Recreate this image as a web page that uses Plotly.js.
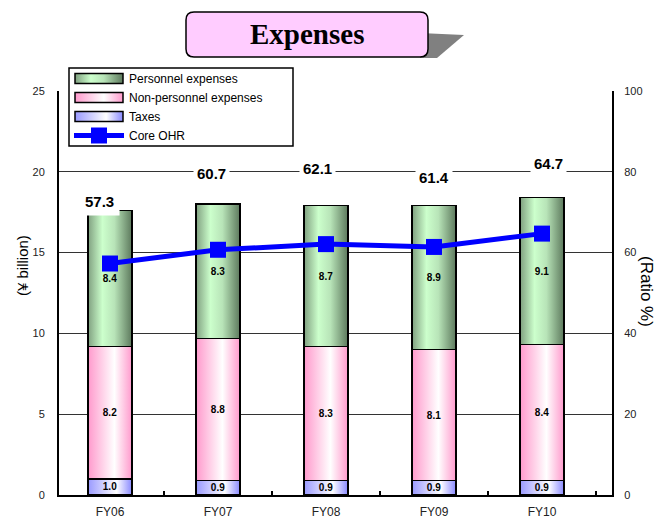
<!DOCTYPE html>
<html><head><meta charset="utf-8">
<script src="https://cdn.plot.ly/plotly-3.0.1.min.js"></script>
<style>body{margin:0;background:#fff}#chart{width:661px;height:519px}</style>
</head><body>
<svg width="0" height="0" style="position:absolute"><defs>
<linearGradient id="gGreen" x1="0" y1="0" x2="1" y2="0">
 <stop offset="0" stop-color="#7f9f7f"/><stop offset="0.33" stop-color="#ccffcc"/><stop offset="0.6" stop-color="#b8e4b8"/><stop offset="1" stop-color="#5c785c"/>
</linearGradient>
<linearGradient id="gPink" x1="0" y1="0" x2="1" y2="0">
 <stop offset="0" stop-color="#ff99cc"/><stop offset="0.6" stop-color="#ffffff"/><stop offset="1" stop-color="#ff99cc"/>
</linearGradient>
<linearGradient id="gBlue" x1="0" y1="0" x2="1" y2="0">
 <stop offset="0" stop-color="#9999ff"/><stop offset="0.65" stop-color="#ffffff"/><stop offset="1" stop-color="#8888ff"/>
</linearGradient>
</defs></svg>
<div id="chart"></div>
<script>
// ---- data ----
const categories = ['FY06', 'FY07', 'FY08', 'FY09', 'FY10'];
const taxes = [1.0, 0.9, 0.9, 0.9, 0.9];
const nonPersonnel = [8.2, 8.8, 8.3, 8.1, 8.4];
const personnel = [8.4, 8.3, 8.7, 8.9, 9.1];
const coreOHR = [57.3, 60.7, 62.1, 61.4, 64.7];

// ---- label placement (pixels, style only) ----
const ohrLabelDx = [-10, -6, -9, 0, 6];
const ohrLabelDy = [62, 76, 76, 69, 70];
const ohrLabelPad = [5, 3, 3, 3, 3];

// plot area geometry in pixels
const L = 59, R = 612, T = 91, B = 495;
const px = x => (x - L) / (R - L);
const py = y => (B - y) / (B - T);

const barText = {family: 'Arial, Liberation Sans, sans-serif', size: 10, color: '#000', weight: 'bold'};
const barLine = {color: '#000', width: 1.5};
function barTrace(name, vals, color, rank) {
  return {
    type: 'bar', name: name, x: categories, y: vals,
    marker: {color: color, line: barLine},
    width: 0.41,
    text: vals.map(v => v.toFixed(1)),
    textposition: 'inside', insidetextanchor: 'middle', textangle: 0,
    insidetextfont: barText, constraintext: 'none',
    legendrank: rank, hoverinfo: 'skip'
  };
}

const traces = [
  barTrace('Taxes', taxes, '#c4c4ff', 3),
  barTrace('Non-personnel expenses', nonPersonnel, '#ffc4e2', 2),
  barTrace('Personnel expenses', personnel, '#a8d8a8', 1),
  {
    type: 'scatter', mode: 'lines+markers', name: 'Core OHR',
    x: categories, y: coreOHR, yaxis: 'y2',
    line: {color: '#0000ff', width: 5},
    marker: {symbol: 'square', size: 16, color: '#0000ff'},
    legendrank: 4, cliponaxis: false
  }
];

const annotations = coreOHR.map((v, i) => ({
  x: categories[i], y: v, xref: 'x', yref: 'y2',
  xshift: ohrLabelDx[i], yshift: ohrLabelDy[i],
  text: v.toFixed(1), showarrow: false,
  font: {family: 'Arial, Liberation Sans, sans-serif', size: 15, color: '#000', weight: 'bold'},
  bgcolor: '#ffffff', borderpad: ohrLabelPad[i]
}));
annotations.push({
  xref: 'paper', yref: 'paper', x: px(307), y: py(34), xanchor: 'center', yanchor: 'middle',
  text: 'Expenses', showarrow: false,
  font: {family: 'Liberation Serif, Times New Roman, serif', size: 29, color: '#000', weight: 'bold'}
});
annotations.push({
  xref: 'paper', yref: 'paper', x: px(22), y: py(266), textangle: -90, xanchor: 'center', yanchor: 'middle',
  text: '(¥ billion)', showarrow: false,
  font: {family: 'Arial, Liberation Sans, sans-serif', size: 15, color: '#000'}
});
annotations.push({
  xref: 'paper', yref: 'paper', x: px(647), y: py(292), textangle: 90, xanchor: 'center', yanchor: 'middle',
  text: '(Ratio %)', showarrow: false,
  font: {family: 'Arial, Liberation Sans, sans-serif', size: 17, color: '#000'}
});

// title box
const x0 = 186, x1 = 428, y0 = 12, y1 = 57, r = 8;
const P = (x, y) => px(x) + ',' + py(y);
const boxPath = 'M' + P(x0 + r, y0) + ' L' + P(x1 - r, y0) + ' Q' + P(x1, y0) + ' ' + P(x1, y0 + r) +
  ' L' + P(x1, y1 - r) + ' Q' + P(x1, y1) + ' ' + P(x1 - r, y1) +
  ' L' + P(x0 + r, y1) + ' Q' + P(x0, y1) + ' ' + P(x0, y1 - r) +
  ' L' + P(x0, y0 + r) + ' Q' + P(x0, y0) + ' ' + P(x0 + r, y0) + ' Z';
const shadowPath = 'M' + P(420, 33) + ' L' + P(464, 35) + ' L' + P(437, 58) + ' L' + P(420, 58) + ' Z';

const tickFont = {family: 'Arial, Liberation Sans, sans-serif', size: 11, color: '#222'};
const layout = {
  width: 661, height: 519,
  margin: {l: L, r: 661 - R, t: T, b: 519 - B, pad: 0},
  paper_bgcolor: '#fff', plot_bgcolor: '#fff',
  barmode: 'stack', showlegend: true,
  xaxis: {
    type: 'category', range: [-0.472, 4.648], tickson: 'boundaries',
    ticks: 'inside', ticklen: 4, tickwidth: 1.5, tickcolor: '#000',
    showline: true, linecolor: '#000', linewidth: 2, showgrid: false,
    tickfont: {family: 'Arial, Liberation Sans, sans-serif', size: 12, color: '#222'},
    ticklabelstandoff: 5, fixedrange: true
  },
  yaxis: {
    range: [0, 25], dtick: 5, showgrid: true, gridcolor: '#333', gridwidth: 1,
    zeroline: false, showline: true, linecolor: '#000', linewidth: 2,
    ticks: '', tickfont: tickFont, ticklabelstandoff: 10
  },
  yaxis2: {
    overlaying: 'y', side: 'right', range: [0, 100], dtick: 20,
    showgrid: false, zeroline: false, showline: true, linecolor: '#000', linewidth: 2,
    ticks: '', tickfont: tickFont, ticklabelstandoff: 8
  },
  legend: {
    x: px(69), y: py(64), xanchor: 'left', yanchor: 'top',
    bgcolor: 'rgba(0,0,0,0)', borderwidth: 0,
    font: {family: 'Arial, Liberation Sans, sans-serif', size: 12, color: '#000'},
    traceorder: 'normal', itemwidth: 50, tracegroupgap: 0
  },
  shapes: [
    {type: 'path', xref: 'paper', yref: 'paper', path: shadowPath, fillcolor: '#808080', line: {width: 0}},
    {type: 'path', xref: 'paper', yref: 'paper', path: boxPath, fillcolor: '#ffccff', line: {color: '#000', width: 1.5}},
    {type: 'rect', xref: 'paper', yref: 'paper', x0: px(69), x1: px(293), y0: py(146), y1: py(68),
     fillcolor: '#fff', line: {color: '#000', width: 1.5}}
  ],
  annotations: annotations
};

Plotly.newPlot('chart', traces, layout, {displayModeBar: false, staticPlot: true}).then(gd => {
  const grads = ['url(#gBlue)', 'url(#gPink)', 'url(#gGreen)'];
  gd.querySelectorAll('.barlayer .trace').forEach((tr, i) => {
    tr.querySelectorAll('.point path').forEach(p => { p.style.fill = grads[i]; });
  });
  gd.querySelectorAll('.legend .traces').forEach(tr => {
    const name = tr.textContent;
    const g = name.indexOf('Non') === 0 ? grads[1] : name.indexOf('Personnel') === 0 ? grads[2] : name.indexOf('Taxes') === 0 ? grads[0] : null;
    if (g) tr.querySelectorAll('.legendpoints path').forEach(p => {
      p.style.fill = g;
      p.setAttribute('d', 'M24,5H-24V-5H24Z');
      p.style.strokeWidth = '1.5px';
    });
  });
});
</script>
</body></html>
